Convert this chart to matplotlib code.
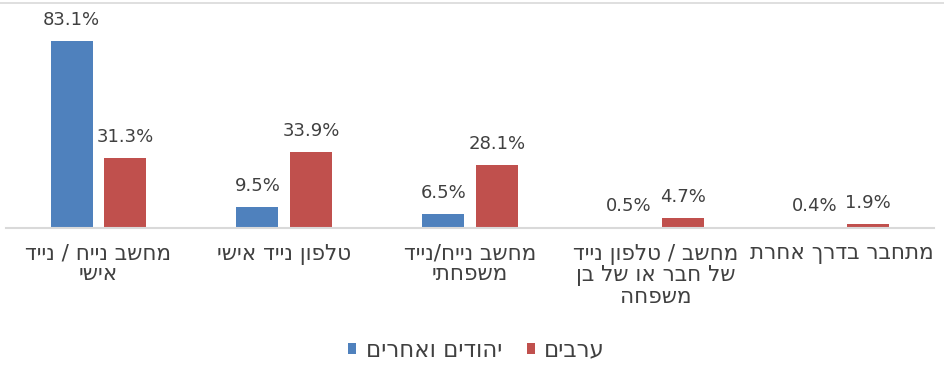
import matplotlib.pyplot as plt
import numpy as np
from matplotlib.lines import Line2D

# data
categories = ["מחשב נייח / נייד\nאישי",
              "טלפון נייד אישי",
              "מחשב נייח/נייד\nמשפחתי",
              "מחשב / טלפון נייד\nשל חבר או של בן\nמשפחה",
              "מתחבר בדרך אחרת"]
jews = [83.1, 9.5, 6.5, 0.5, 0.4]
arabs = [31.3, 33.9, 28.1, 4.7, 1.9]
series_names = ["יהודים ואחרים", "ערבים"]


def rtl(s):
    # no bidi in matplotlib -> flip each line by hand
    return "\n".join(line[::-1] for line in s.split("\n"))


plt.rcParams['font.family'] = ['DejaVu Sans', 'Liberation Sans']
txt_color = '#404040'
blue = '#4F81BD'
red = '#C0504D'

fig = plt.figure(figsize=(9.44, 3.74), dpi=100)
ax = fig.add_axes([0.0059, 0.3896, 0.984, 0.5730])

x = np.arange(len(categories))
w = 0.226
off = 0.144
b1 = ax.bar(x - off, jews, w, color=blue, label=rtl(series_names[0]))
b2 = ax.bar(x + off, arabs, w, color=red, label=rtl(series_names[1]))

for bars, vals in [(b1, jews), (b2, arabs)]:
    for r, v in zip(bars, vals):
        ax.annotate('{:.1f}%'.format(v), (r.get_x() + r.get_width() / 2, v),
                    xytext=(0, 11.5), textcoords='offset points',
                    ha='center', va='baseline', fontsize=13, color=txt_color)

ax.set_xlim(-0.5, len(categories) - 0.5)
ax.set_ylim(0, 95)
ax.set_yticks([])
ax.set_xticks(x)
ax.set_xticklabels([rtl(c) for c in categories], fontsize=15.5, color=txt_color,
                   linespacing=1.05)
ax.tick_params(axis='x', length=0, pad=11)
for s in ['top', 'right', 'left']:
    ax.spines[s].set_visible(False)
ax.spines['bottom'].set_color('#D9D9D9')
ax.spines['bottom'].set_linewidth(1.5)

# thin border line at the very top of the chart
fig.add_artist(Line2D([0, 1], [0.993, 0.993], transform=fig.transFigure,
                      color='#D9D9D9', lw=1.2))

leg = fig.legend(handles=[b1, b2], loc='center', bbox_to_anchor=(0.505, 0.064),
                 ncol=2, frameon=False, fontsize=16.5, handlelength=0.35,
                 handleheight=0.35, handletextpad=0.4, columnspacing=1.1)
for t in leg.get_texts():
    t.set_color(txt_color)

fig.savefig('out.png', dpi=100)
